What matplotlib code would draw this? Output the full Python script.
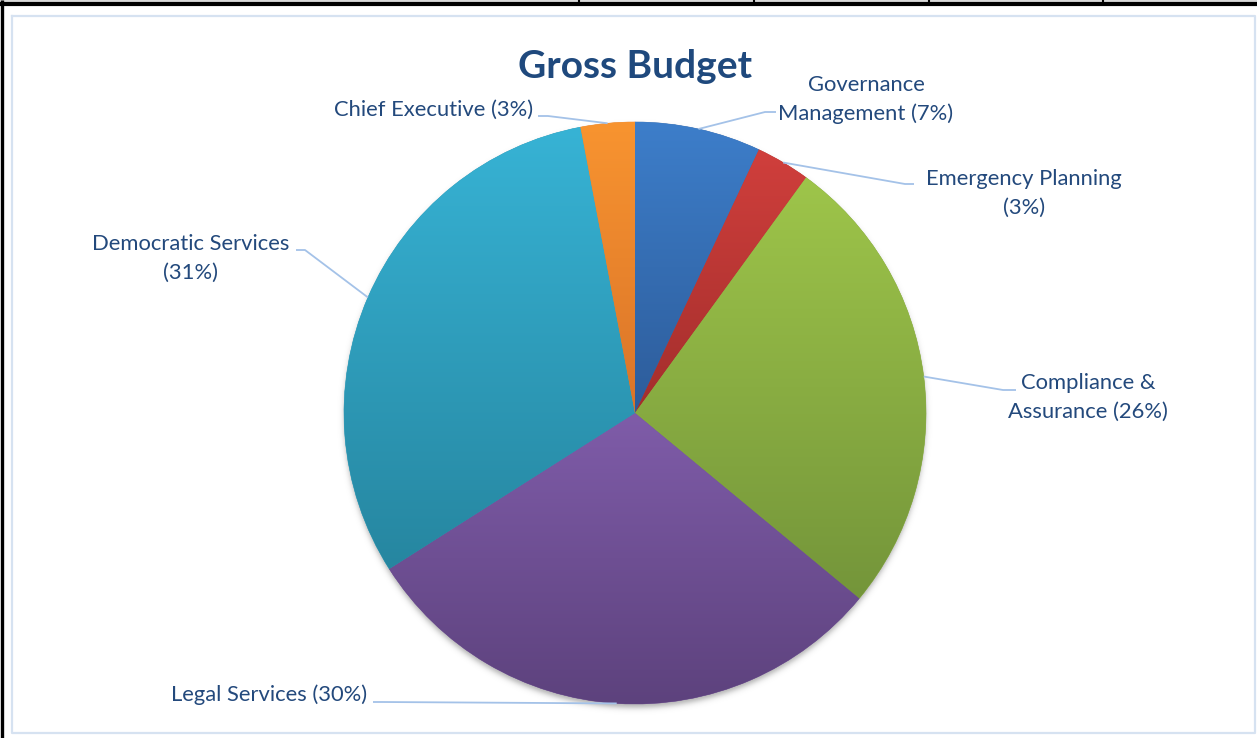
import numpy as np
import matplotlib
matplotlib.use("Agg")
import matplotlib.pyplot as plt
from matplotlib.colors import to_rgb

# ---- data -------------------------------------------------------------
categories = ["Governance\nManagement", "Emergency Planning", "Compliance &\nAssurance",
              "Legal Services", "Democratic Services", "Chief Executive"]
shares = [7, 3, 26, 30, 31, 3]
label_breaks = [" ", "\n", " ", " ", "\n", " "]
title = "Gross Budget"

# per-slice gradient (top colour, bottom colour)
top_colors = ["#3d7eca", "#d03f3c", "#9ec54a", "#7f5ca9", "#37b3d5", "#f89430"]
bottom_colors = ["#2d5c9a", "#a32e2c", "#74953a", "#5d427d", "#2686a0", "#da7429"]

# ---- layout (pixel coordinates, y measured from the top) -------------
W, H = 1257, 738
CX, CY_TOP, R = 635, 413, 291
TEXT_COLOR = "#23497c"
LEADER_COLOR = "#a4c2e8"
FONT = ["Lato", "DejaVu Sans"]

# text anchor (x, y, ha) and the two leader points nearest the text
label_layout = [
    ((866, 99.5), "center", (765, 112), (776, 112)),
    ((1024, 193.5), "center", (905, 184), (914, 184)),
    ((1088, 397.5), "center", (1003, 390), (1016, 390)),
    ((367, 695), "right", (382, 702), (373, 702)),
    ((191, 258.5), "center", (305, 250), (296, 250)),
    ((533, 110), "right", (548, 116), (538, 116)),
]


def Y(y):
    return H - y


fig = plt.figure(figsize=(W / 100, H / 100), dpi=100)
ax = fig.add_axes([0, 0, 1, 1])

CY = Y(CY_TOP)

# soft drop shadow under the pie
gx = np.arange(CX - R - 25, CX + R + 25, 1.0)
gy = np.arange(CY - R - 25, CY + R + 25, 1.0)
XX, YY = np.meshgrid(gx, gy)
dist = np.hypot(XX - CX, YY - (CY - 4))
alpha = 0.32 * 0.5 * (1 - np.tanh((dist - R) / 3.5))
shadow = np.zeros(XX.shape + (4,))
shadow[..., 3] = alpha
ax.imshow(shadow, extent=(gx[0], gx[-1], gy[0], gy[-1]), origin="lower",
          interpolation="bilinear", zorder=1)

wedges, _ = ax.pie(shares, startangle=90, counterclock=False, radius=R,
                   center=(CX, CY), wedgeprops=dict(linewidth=0))

t = np.linspace(0, 1, 256)[:, None, None]
for w, c0, c1 in zip(wedges, top_colors, bottom_colors):
    a, b = np.array(to_rgb(c0)), np.array(to_rgb(c1))
    mid = (a + b) / 2
    w.set_facecolor(mid)
    w.set_edgecolor(mid)
    w.set_linewidth(0.4)
    w.set_zorder(2)
    ext = w.get_path().get_extents()
    img = a[None, None, :] * (1 - t) + b[None, None, :] * t
    im = ax.imshow(img, extent=(ext.x0, ext.x1, ext.y0, ext.y1), origin="upper",
                   aspect="auto", interpolation="bilinear", zorder=3)
    im.set_clip_path(w)

# labels with leader lines
for w, cat, brk, v, lay in zip(wedges, categories, label_breaks, shares, label_layout):
    (tx, ty), ha, p_elbow, p_end = lay
    ang = np.deg2rad((w.theta1 + w.theta2) / 2)
    ex, ey = CX + R * np.cos(ang), CY + R * np.sin(ang)
    ax.plot([ex, p_elbow[0], p_end[0]], [ey, Y(p_elbow[1]), Y(p_end[1])],
            color=LEADER_COLOR, lw=1.3, zorder=4, solid_capstyle="butt")
    ax.text(tx, Y(ty), f"{cat}{brk}({v}%)", ha=ha, va="center", multialignment="center",
            fontsize=15.8, color=TEXT_COLOR, family=FONT, linespacing=1.52, zorder=5)

ax.text(635, Y(66), title, ha="center", va="center", fontsize=28, fontweight="bold",
        color="#1f497d", family=FONT, zorder=5)

# chart area border
ax.plot([12, 1255, 1255, 12, 12], [Y(16), Y(16), Y(733), Y(733), Y(16)],
        color="#d6e2f1", lw=1.6, zorder=0)

# surrounding table frame
ax.fill_between([0, W], Y(0), Y(2), color="#d9d9d9", lw=0, zorder=0)
ax.plot([0, W], [Y(4), Y(4)], color="black", lw=3.0, zorder=6, solid_capstyle="butt")
ax.plot([1.6, 1.6], [Y(0), Y(H)], color="black", lw=2.4, zorder=6, solid_capstyle="butt")
for xv in [579, 754, 929, 1103]:
    ax.plot([xv, xv], [Y(0), Y(4)], color="black", lw=1.5, zorder=6)

ax.set_xlim(0, W)
ax.set_ylim(0, H)
ax.set_aspect("auto")
ax.axis("off")

fig.savefig("out.png", dpi=100, facecolor="white")
